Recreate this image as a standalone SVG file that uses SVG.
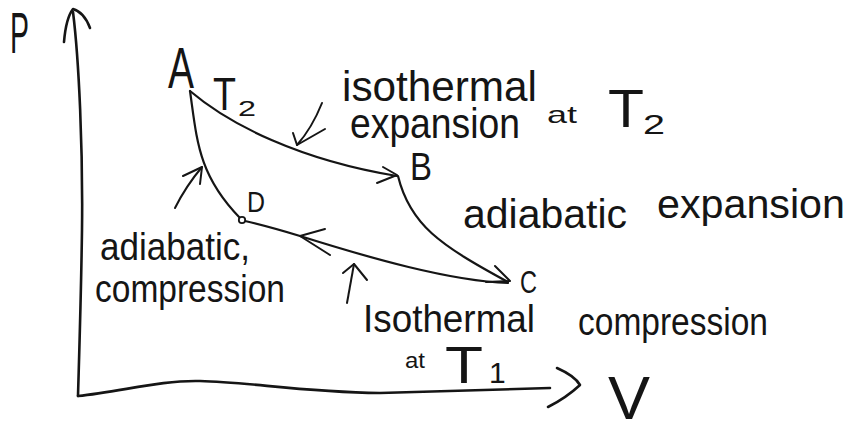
<svg xmlns="http://www.w3.org/2000/svg" width="849" height="432" viewBox="0 0 849 432">
<style>
 .ln{fill:none;stroke:#151515;stroke-width:2.2;stroke-linecap:round;stroke-linejoin:round}
 .ax{fill:none;stroke:#151515;stroke-width:2.6;stroke-linecap:round;stroke-linejoin:round}
 .hd{fill:none;stroke:#151515;stroke-width:2;stroke-linecap:round;stroke-linejoin:round}
 text{font-family:"Liberation Sans","DejaVu Sans",sans-serif;fill:#151515}
</style>
<rect width="849" height="432" fill="#fff"/>
<g id="axes">
 <path class="ax" d="M73,12 C79,60 83,150 82,230 C81,300 79,360 78,396"/>
 <path class="ax" d="M64,42 Q66,18 73,9 Q84,12 90,28"/>
 <path class="ax" d="M78,396 C120,392 160,380 200,381 C250,382 300,392 380,393 L550,388"/>
 <path class="ax" d="M557,368 Q575,376 580,385 Q566,398 548,407"/>
 <text x="10" y="53" font-size="58" textLength="19" lengthAdjust="spacingAndGlyphs">P</text>
 <text x="608" y="419" font-size="62" textLength="42" lengthAdjust="spacingAndGlyphs">V</text>
</g>
<g id="connectors">
 <path class="ln" d="M190,91 C230,125 300,160 397,176"/>
 <path class="hd" d="M383,167 L397,175 L377,183"/>
 <path class="ln" d="M398,176 C410,225 440,245 508,282"/>
 <path class="hd" d="M495,266 L510,281 L486,282"/>
 <path class="ln" d="M508,283 C450,281 370,258 300,236 C280,230 262,225 245,221"/>
 <path class="hd" d="M325,229 L300,236 L330,255"/>
 <path class="ln" d="M240,218 C198,175 197,140 190,91"/>
 <path class="hd" d="M175,208 Q186,186 202,167"/>
 <path class="hd" d="M183,176 L202,167 L200,184"/>
 <path class="hd" d="M322,103 Q312,128 297,145"/>
 <path class="hd" d="M293,133 L297,145 L325,129"/>
 <path class="hd" d="M347,303 L354,264"/>
 <path class="hd" d="M343,273 L354,264 L367,280"/>
</g>
<g id="node-A">
 <text x="168" y="88" font-size="57" textLength="26" lengthAdjust="spacingAndGlyphs">A</text>
</g>
<g id="node-B">
 <text x="410" y="180" font-size="38" textLength="22" lengthAdjust="spacingAndGlyphs">B</text>
</g>
<g id="node-C">
 <text x="520" y="293" font-size="32" textLength="17" lengthAdjust="spacingAndGlyphs">C</text>
</g>
<g id="node-D">
 <circle cx="242" cy="220" r="3.2" fill="#fff" stroke="#151515" stroke-width="1.8"/>
 <text x="247" y="212" font-size="30" textLength="18" lengthAdjust="spacingAndGlyphs">D</text>
</g>
<g id="label-T2">
 <text x="213" y="110" font-size="46" textLength="23" lengthAdjust="spacingAndGlyphs">T</text>
 <text x="238" y="116" font-size="22" textLength="18" lengthAdjust="spacingAndGlyphs">2</text>
</g>
<g id="label-isothermal-expansion">
 <text x="342" y="101" font-size="42" textLength="195" lengthAdjust="spacingAndGlyphs">isothermal</text>
 <text x="350" y="138" font-size="42" textLength="170" lengthAdjust="spacingAndGlyphs">expansion</text>
 <text x="547" y="123" font-size="24" textLength="30" lengthAdjust="spacingAndGlyphs">at</text>
 <text x="608" y="127" font-size="54" textLength="36" lengthAdjust="spacingAndGlyphs">T</text>
 <text x="643" y="134" font-size="28" textLength="22" lengthAdjust="spacingAndGlyphs">2</text>
</g>
<g id="label-adiabatic-expansion">
 <text x="463" y="228" font-size="40" textLength="164" lengthAdjust="spacingAndGlyphs">adiabatic</text>
 <text x="657" y="218" font-size="40" textLength="188" lengthAdjust="spacingAndGlyphs">expansion</text>
</g>
<g id="label-adiabatic-compression">
 <text x="100" y="260" font-size="38" textLength="150" lengthAdjust="spacingAndGlyphs">adiabatic,</text>
 <text x="95" y="302" font-size="38" textLength="190" lengthAdjust="spacingAndGlyphs">compression</text>
</g>
<g id="label-isothermal-compression">
 <text x="363" y="332" font-size="38" textLength="172" lengthAdjust="spacingAndGlyphs">Isothermal</text>
 <text x="578" y="335" font-size="38" textLength="190" lengthAdjust="spacingAndGlyphs">compression</text>
 <text x="405" y="368" font-size="22" textLength="20" lengthAdjust="spacingAndGlyphs">at</text>
 <text x="445" y="383" font-size="52" textLength="38" lengthAdjust="spacingAndGlyphs">T</text>
 <text x="489" y="383" font-size="30">1</text>
</g>
</svg>
